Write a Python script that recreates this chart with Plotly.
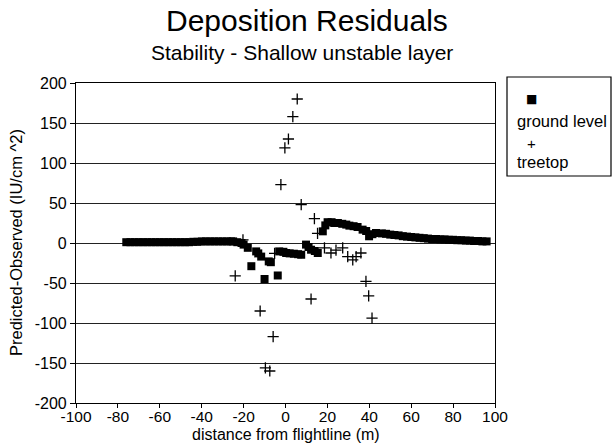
import plotly.graph_objects as go

# ---------------- data ----------------
ground_x = [-76, -74, -72, -70, -68, -66, -64, -62, -60, -58, -56, -54, -52, -50,
            -48, -46, -44, -42, -40, -38, -36, -34, -32, -30, -28, -26,
            -25, -23, -21, -20, -18, -16.3, -14, -13, -11.6, -10, -8, -7, -3.7,
            -3, -1, 0.3, 2, 4, 6, 7.5, 9.8, 11, 12.2, 14, 15.4, 17.8, 19, 20.1,
            22, 23.3, 25, 27.1, 29, 30.5, 32.5, 34.4, 36.8, 38.5, 39.9, 41.5, 43.2,
            46, 48, 50, 52, 54, 56, 58, 60, 62, 64, 66, 68, 70, 72, 74, 76, 78,
            80, 82, 84, 86, 88, 90, 92, 94, 96]
ground_y = [1, 1, 1, 1, 1, 1, 1, 1, 1, 1, 1, 1, 1, 1,
            1, 1, 1.5, 1.5, 2, 2, 2, 2, 2, 2, 2, 2,
            2, 1, 0, -2, -6, -29, -10.5, -13, -17, -45, -23, -24, -40.6,
            -10.5, -11, -12.5, -13, -13.4, -14, -14.7, -2, -5, -8.4, -10, -12.5, 14.6, 22, 26,
            26, 25, 25, 24, 23, 21.7, 21, 20, 16.7, 15, 8.4, 11, 12.5,
            12, 11.5, 10.5, 10, 9.5, 8.5, 8, 7.5, 7, 6.5, 6, 5.5, 5, 5, 4.5, 4.5, 4,
            4, 3.5, 3.5, 3, 3, 2.5, 2.5, 2, 2]

tree_x = [-24, -20.3, -12.1, -9.6, -7.5, -5.9, -5.2, -2.2, -0.3, 1.4, 3.5, 5.6,
          7.5, 12.2, 13.8, 15.3, 18.6, 21.7, 24.1, 27.3, 29.7, 32.1, 33.7, 36,
          38.4, 39.7, 41.3]
tree_y = [-41, 4, -85, -156, -160, -117, -13, 73, 119, 130, 158, 180,
          48, -70, 30.5, 12, -6, -12.5, -9, -6, -17, -21, -17, -12.5,
          -48, -66, -94]

x_ticks = [-100, -80, -60, -40, -20, 0, 20, 40, 60, 80, 100]
x_ticklabels = ["-100", "-80", "-60", "-40", "-20", "0", "20", "40", "60", "80", "100"]
y_ticks = [-200, -150, -100, -50, 0, 50, 100, 150, 200]
y_ticklabels = ["-200", "-150", "-100", "-50", "0", "50", "100", "150", "200"]

FONT = "Liberation Sans, Arial, Helvetica, sans-serif"

# ---------------- figure ----------------
fig = go.Figure()
fig.add_trace(go.Scatter(
    x=ground_x, y=ground_y, mode="markers", name="ground level",
    marker=dict(symbol="square", size=8, color="black"),
    showlegend=False))
fig.add_trace(go.Scatter(
    x=tree_x, y=tree_y, mode="markers", name="treetop",
    marker=dict(symbol="cross-thin", size=8, color="black",
                line=dict(color="black", width=1.3)),
    showlegend=False))

L, R, T, B = 76, 118, 83, 40
W, H = 613, 443
pw, ph = W - L - R, H - T - B


def px(x):
    return (x - L) / pw


def py(y):
    return (H - B - y) / ph


annotations = [
    dict(text="Deposition Residuals", x=px(307), y=py(21), xref="paper", yref="paper",
         xanchor="center", yanchor="middle", showarrow=False,
         font=dict(family=FONT, size=30, color="black")),
    dict(text="Stability - Shallow unstable layer", x=px(302), y=py(52.5), xref="paper", yref="paper",
         xanchor="center", yanchor="middle", showarrow=False,
         font=dict(family=FONT, size=21, color="black")),
    dict(text="distance from flightline (m)", x=px(286), y=py(434.5), xref="paper", yref="paper",
         xanchor="center", yanchor="middle", showarrow=False,
         font=dict(family=FONT, size=16, color="black")),
    dict(text="Predicted-Observed (IU/cm ^2)", x=px(16), y=py(243), xref="paper", yref="paper",
         xanchor="center", yanchor="middle", showarrow=False, textangle=-90,
         font=dict(family=FONT, size=16.5, color="black")),
    # legend
    dict(text="■", x=px(531.5), y=py(99), xref="paper", yref="paper",
         xanchor="center", yanchor="middle", showarrow=False,
         font=dict(family="DejaVu Sans", size=12, color="black")),
    dict(text="ground level", x=px(515), y=py(121), xref="paper", yref="paper",
         xanchor="left", yanchor="middle", showarrow=False,
         font=dict(family=FONT, size=16.5, color="black")),
    dict(text="+", x=px(531.5), y=py(143), xref="paper", yref="paper",
         xanchor="center", yanchor="middle", showarrow=False,
         font=dict(family=FONT, size=15, color="black")),
    dict(text="treetop", x=px(515), y=py(162), xref="paper", yref="paper",
         xanchor="left", yanchor="middle", showarrow=False,
         font=dict(family=FONT, size=16.5, color="black")),
]

fig.update_layout(
    width=W, height=H,
    margin=dict(l=L, r=R, t=T, b=B, pad=0),
    paper_bgcolor="white", plot_bgcolor="white",
    showlegend=False,
    annotations=annotations,
    shapes=[dict(type="rect", xref="paper", yref="paper",
                 x0=px(507), x1=px(611), y0=py(176), y1=py(77),
                 line=dict(color="black", width=1.2), fillcolor="rgba(0,0,0,0)")],
    font=dict(family=FONT, size=16, color="black"),
)
fig.update_xaxes(
    range=[-100, 100], tickvals=x_ticks, ticktext=x_ticklabels,
    showgrid=False, zeroline=False,
    showline=True, linecolor="black", linewidth=1.2, mirror=True,
    ticks="outside", ticklen=4, tickcolor="black", tickwidth=1,
    ticklabelstandoff=-5,
    tickfont=dict(family=FONT, size=15.5, color="black"),
)
fig.update_yaxes(
    range=[-200, 200], tickvals=y_ticks, ticktext=y_ticklabels,
    showgrid=True, gridcolor="#222222", gridwidth=1, zeroline=False,
    showline=True, linecolor="black", linewidth=1.2, mirror=True,
    ticks="outside", ticklen=5, tickcolor="black", tickwidth=1,
    tickfont=dict(family=FONT, size=16, color="black"),
)

fig.write_html("out.html")
